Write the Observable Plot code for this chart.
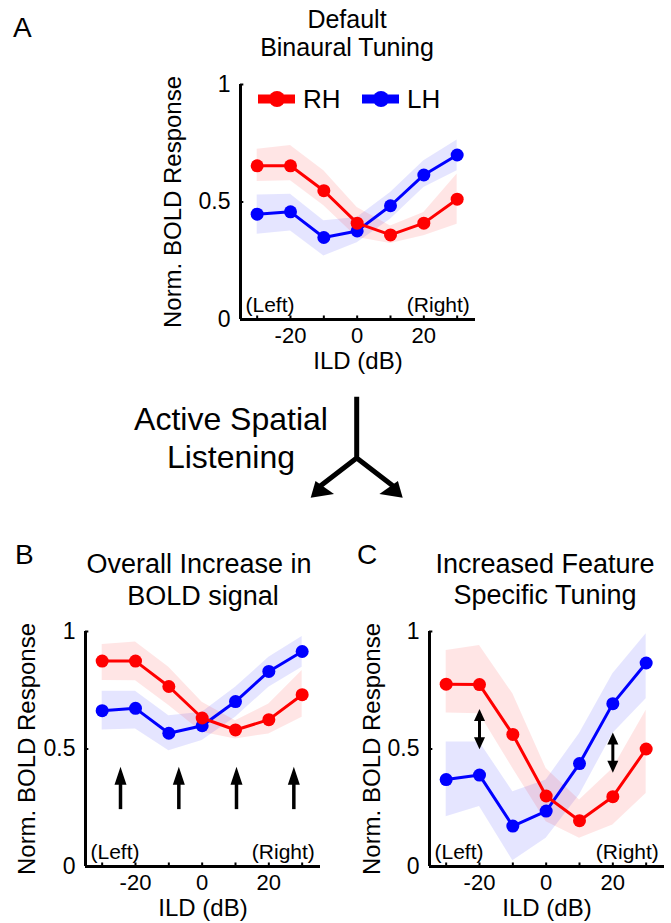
<!DOCTYPE html>
<html><head><meta charset="utf-8">
<script src="https://cdn.jsdelivr.net/npm/d3@7"></script>
<script src="https://cdn.jsdelivr.net/npm/@observablehq/plot@0.6"></script>
<style>
body{margin:0;background:#fff;}
#page{position:relative;width:671px;height:923px;overflow:hidden;background:#fff;font-family:"Liberation Sans",Arial,sans-serif;}
.panel{position:absolute;}
#overlay{position:absolute;left:0;top:0;}
#overlay text{font-family:"Liberation Sans",Arial,sans-serif;fill:#000;}
</style></head>
<body>
<div id="page">
<svg id="overlay" width="671" height="923">
  <text x="13" y="37" font-size="28">A</text>
  <text x="347" y="28" font-size="25" text-anchor="middle">Default</text>
  <text x="347" y="56" font-size="25" text-anchor="middle">Binaural Tuning</text>
  <g id="legend"></g>
  <text x="231" y="430" font-size="32" text-anchor="middle">Active Spatial</text>
  <text x="231" y="468" font-size="32" text-anchor="middle">Listening</text>
  <g fill="none" stroke="#000" stroke-width="5">
    <path d="M356.7,396.7V458L319,487M356.7,458L394.4,487"/>
  </g>
  <g fill="#000">
    <path d="M310.7,497.7L315.5,481L334,494Z"/>
    <path d="M402.7,497.7L397.9,481L379.4,494Z"/>
  </g>
  <text x="15" y="564" font-size="28">B</text>
  <text x="199" y="573" font-size="27" text-anchor="middle">Overall Increase in</text>
  <text x="203" y="605" font-size="27" text-anchor="middle">BOLD signal</text>
  <text x="357" y="564" font-size="28">C</text>
  <text x="545" y="573" font-size="27" text-anchor="middle">Increased Feature</text>
  <text x="545" y="604" font-size="27" text-anchor="middle">Specific Tuning</text>
</svg>
</div>
<script>
// ---- data ----
const ild = [-30, -20, -10, 0, 10, 20, 30];
const xTicks = [-30, -20, -10, 0, 10, 20, 30];
const xTickLabels = [-20, 0, 20];
const yTicks = [0, 0.5, 1];
const xDomain = [-35, 35.5];

// Panel A: default binaural tuning
const rhA    = [0.654, 0.654, 0.548, 0.410, 0.360, 0.410, 0.512];
const rhALo  = [0.587, 0.590, 0.484, 0.349, 0.323, 0.356, 0.405];
const rhAHi  = [0.725, 0.740, 0.633, 0.477, 0.398, 0.455, 0.619];
const lhA    = [0.448, 0.458, 0.349, 0.377, 0.484, 0.615, 0.700];
const lhALo  = [0.363, 0.377, 0.270, 0.327, 0.427, 0.562, 0.633];
const lhAHi  = [0.530, 0.533, 0.420, 0.434, 0.540, 0.676, 0.764];

// Panel B: overall increase
const rhB    = [0.874, 0.874, 0.766, 0.632, 0.581, 0.625, 0.731];
const rhBLo  = [0.791, 0.790, 0.685, 0.571, 0.543, 0.564, 0.635];
const rhBHi  = [0.945, 0.955, 0.848, 0.699, 0.620, 0.692, 0.834];
const lhB    = [0.663, 0.673, 0.567, 0.599, 0.702, 0.830, 0.915];
const lhBLo  = [0.581, 0.585, 0.493, 0.536, 0.635, 0.763, 0.848];
const lhBHi  = [0.746, 0.746, 0.642, 0.656, 0.763, 0.890, 0.979];

// Panel C: feature specific tuning
const rhC    = [0.776, 0.774, 0.562, 0.300, 0.195, 0.297, 0.500];
const rhCLo  = [0.653, 0.650, 0.417, 0.190, 0.120, 0.177, 0.311];
const rhCHi  = [0.919, 0.940, 0.735, 0.417, 0.283, 0.417, 0.665];
const lhC    = [0.370, 0.389, 0.172, 0.236, 0.438, 0.693, 0.866];
const lhCLo  = [0.212, 0.255, 0.024, 0.120, 0.304, 0.566, 0.714];
const lhCHi  = [0.530, 0.530, 0.318, 0.368, 0.566, 0.820, 0.990];

// annotation arrows
const arrowBX    = [-24.5, -7.0, 10.3, 27.5];
const arrowBBase = 0.242;
const arrowBTip  = 0.424;
const arrowCX    = [-20, 20];
const arrowCTop  = [0.670, 0.570];
const arrowCBot  = [0.499, 0.399];

const seriesNames = ["RH", "LH"];
const sideLabels = ["(Left)", "(Right)"];
const sideX = [-33.5, 33.8];
const yLabel = "Norm. BOLD Response";
const xLabel = "ILD (dB)";

const RED = "#ff0000", BLUE = "#0000ff";
const FONT = "Liberation Sans, Arial, sans-serif";

function headSymbol(w, h) {
  return {draw(ctx) { ctx.moveTo(0, 0); ctx.lineTo(w / 2, h); ctx.lineTo(-w / 2, h); ctx.closePath(); }};
}

function panel(o) {
  const rows = ild.map((x, i) => ({x, rh: o.rh[i], rhLo: o.rhLo[i], rhHi: o.rhHi[i], lh: o.lh[i], lhLo: o.lhLo[i], lhHi: o.lhHi[i]}));
  const plot = Plot.plot({
    width: o.ml + 235 + o.mr, height: o.mt + 235 + o.mb,
    marginLeft: o.ml, marginRight: o.mr, marginTop: o.mt, marginBottom: o.mb,
    x: {domain: xDomain}, y: {domain: [0, 1]},
    style: {background: "transparent", fontFamily: FONT, fontSize: "22px", color: "black", overflow: "visible"},
    marks: [
      Plot.areaY(rows, {x: "x", y1: "lhLo", y2: "lhHi", fill: BLUE, fillOpacity: 0.1}),
      Plot.areaY(rows, {x: "x", y1: "rhLo", y2: "rhHi", fill: RED, fillOpacity: 0.1}),
      ...(o.extra || []),
      Plot.line(rows, {x: "x", y: "lh", stroke: BLUE, strokeWidth: 3}),
      Plot.dot(rows, {x: "x", y: "lh", fill: BLUE, r: 6.5}),
      Plot.line(rows, {x: "x", y: "rh", stroke: RED, strokeWidth: 3}),
      Plot.dot(rows, {x: "x", y: "rh", fill: RED, r: 6.5}),
      Plot.ruleY([0], {x1: xDomain[0], x2: xDomain[1], strokeWidth: 3}),
      Plot.ruleX([xDomain[0]], {y1: 0, y2: 1, strokeWidth: 3}),
      Plot.ruleX(xTicks, {y1: 0, y2: 0.015, strokeWidth: 2}),
      Plot.ruleY(yTicks, {x1: xDomain[0], x2: xDomain[0] + 1, strokeWidth: 2}),
      Plot.axisX({ticks: xTickLabels, tickSize: 0, tickPadding: 8, tickFormat: d => String(d), label: null, fontSize: 22}),
      Plot.axisY({ticks: yTicks, tickSize: 0, tickPadding: 10, tickFormat: d => String(d), label: null, fontSize: 23}),
      Plot.text([yLabel], {text: d => d, frameAnchor: "left", rotate: -90, dx: o.labelDx, lineAnchor: "top", textAnchor: "middle", fontSize: 24}),
      Plot.text([xLabel], {text: d => d, frameAnchor: "bottom", dy: 32, lineAnchor: "top", textAnchor: "middle", fontSize: 24}),
      Plot.text([sideLabels[0]], {text: d => d, x: sideX[0], y: 0, textAnchor: "start", lineAnchor: "bottom", dy: -8, fontSize: 21}),
      Plot.text([sideLabels[1]], {text: d => d, x: sideX[1], y: 0, textAnchor: "end", lineAnchor: "bottom", dy: -8, fontSize: 21})
    ]
  });
  plot.classList.add("panel");
  plot.style.left = o.left + "px";
  plot.style.top = o.top + "px";
  document.getElementById("page").appendChild(plot);
}

panel({rh: rhA, rhLo: rhALo, rhHi: rhAHi, lh: lhA, lhLo: lhALo, lhHi: lhAHi,
  left: 130, top: 70, ml: 110, mr: 25, mt: 14, mb: 62, labelDx: -77});

const upHeadB = headSymbol(12, 18);
panel({rh: rhB, rhLo: rhBLo, rhHi: rhBHi, lh: lhB, lhLo: lhBLo, lhHi: lhBHi,
  left: 0, top: 615, ml: 85, mr: 15, mt: 16, mb: 58, labelDx: -68,
  extra: [
    Plot.ruleX(arrowBX, {x: d => d, y1: arrowBBase, y2: arrowBTip - 0.05, strokeWidth: 3.5}),
    Plot.dot(arrowBX, {x: d => d, y: arrowBTip, symbol: upHeadB, fill: "black", stroke: "none"})
  ]});

const headC = headSymbol(11, 12);
const arrC = arrowCX.map((x, i) => ({x, top: arrowCTop[i], bot: arrowCBot[i]}));
panel({rh: rhC, rhLo: rhCLo, rhHi: rhCHi, lh: lhC, lhLo: lhCLo, lhHi: lhCHi,
  left: 340, top: 615, ml: 89, mr: 7, mt: 16, mb: 58, labelDx: -67,
  extra: [
    Plot.ruleX(arrC, {x: "x", y1: d => d.bot + 0.03, y2: d => d.top - 0.03, strokeWidth: 3}),
    Plot.dot(arrC, {x: "x", y: "top", symbol: headC, fill: "black", stroke: "none"}),
    Plot.dot(arrC, {x: "x", y: "bot", symbol: headC, rotate: 180, fill: "black", stroke: "none"})
  ]});

// legend for panel A
const legend = d3.select("#legend");
const legendItems = [{name: seriesNames[0], color: RED, x0: 258}, {name: seriesNames[1], color: BLUE, x0: 362}];
for (const it of legendItems) {
  legend.append("line").attr("x1", it.x0).attr("x2", it.x0 + 37).attr("y1", 99).attr("y2", 99)
    .attr("stroke", it.color).attr("stroke-width", 9);
  legend.append("circle").attr("cx", it.x0 + 19).attr("cy", 99).attr("r", 8).attr("fill", it.color);
  legend.append("text").attr("x", it.x0 + 45).attr("y", 108).attr("font-size", 26).text(it.name);
}
</script>
</body></html>
